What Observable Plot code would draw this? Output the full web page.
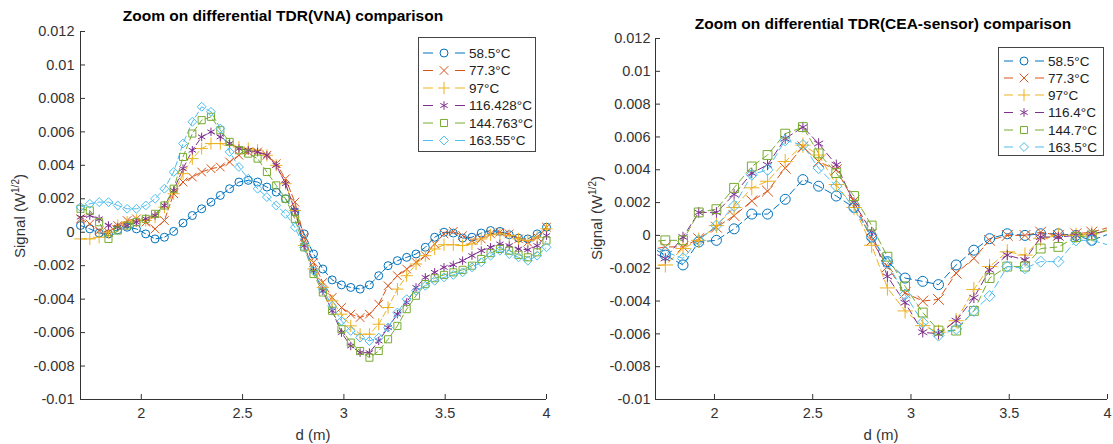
<!DOCTYPE html>
<html><head><meta charset="utf-8">
<script src="https://cdn.jsdelivr.net/npm/d3@7"></script>
<script src="https://cdn.jsdelivr.net/npm/@observablehq/plot@0.6"></script>
<style>
body{margin:0;background:#fff;}
#root{position:relative;width:1113px;height:444px;overflow:hidden;background:#fff;font-family:"Liberation Sans",Arial,sans-serif;}
</style></head><body><div id="root"></div>
<script>
// ---------- shared ----------
const seriesColors = ["#0072BD","#D95319","#EDB120","#7E2F8E","#77AC30","#4DBEEE"];
const seriesSymbols = ["circle","times","plus","asterisk","square","diamond2"];
const xDomain = [1.7, 4];
const yDomain = [-0.01, 0.012];
const xTicks = [2, 2.5, 3, 3.5, 4];
const xTickLabels = ["2","2.5","3","3.5","4"];
const yTicks = [0.012, 0.01, 0.008, 0.006, 0.004, 0.002, 0, -0.002, -0.004, -0.006, -0.008, -0.01];
const yTickLabels = ["0.012","0.01","0.008","0.006","0.004","0.002","0","-0.002","-0.004","-0.006","-0.008","-0.01"];
const yLabelMain = "Signal (W", yLabelSup = "1/2", yLabelEnd = ")";
const xLabel = "d (m)";

// ---------- left panel: VNA ----------
const vnaTitle = "Zoom on differential TDR(VNA) comparison";
const vnaNames = ["58.5°C","77.3°C","97°C","116.428°C","144.763°C","163.55°C"];
const vnaD = [1.700,1.746,1.792,1.838,1.884,1.930,1.976,2.022,2.068,2.114,2.160,2.206,2.252,2.298,2.344,2.390,2.436,2.482,2.528,2.574,2.620,2.666,2.712,2.758,2.804,2.850,2.896,2.942,2.988,3.034,3.080,3.126,3.172,3.218,3.264,3.310,3.356,3.402,3.448,3.494,3.540,3.586,3.632,3.678,3.724,3.770,3.816,3.862,3.908,3.954,4.000];
const vna585 = [0.0004,0.0002,-0.00005,-0.0001,0.00015,0.0003,0.0002,-0.0001,-0.0004,-0.0003,0.00005,0.00055,0.001,0.0014,0.0018,0.0022,0.0026,0.003,0.0031,0.003,0.0027,0.0024,0.002,0.0012,-0.0001,-0.0013,-0.0022,-0.00285,-0.00315,-0.0033,-0.0034,-0.00315,-0.0026,-0.002,-0.0017,-0.0015,-0.0013,-0.0009,-0.0003,0.0,-0.00005,-0.00035,-0.0003,-0.00005,0.0001,0.00005,-0.00015,-0.00035,-0.0004,-0.0001,0.0003];
const vna773 = [0.0008,0.0005,0.0001,0.0,0.0004,0.0007,0.0008,0.0006,0.0002,0.0007,0.0023,0.003,0.0033,0.0036,0.0038,0.0039,0.0042,0.0046,0.0048,0.0048,0.0046,0.0041,0.0032,0.0018,-0.0003,-0.0018,-0.003,-0.0039,-0.0045,-0.0049,-0.0051,-0.0049,-0.0043,-0.0032,-0.0026,-0.0022,-0.0018,-0.0014,-0.0007,-0.0001,0.00005,-0.0002,-0.0005,-0.0004,-0.0001,0.0,-0.0001,-0.0004,-0.0006,-0.0003,0.0003];
const vna97 = [-0.0004,-0.0004,-0.0003,0.0,0.0004,0.0006,0.0007,0.0007,0.0009,0.0015,0.0023,0.0035,0.0044,0.005,0.0053,0.0053,0.0052,0.0051,0.005,0.0049,0.0046,0.004,0.0029,0.0013,-0.0008,-0.0022,-0.0033,-0.0041,-0.0049,-0.0056,-0.0061,-0.0061,-0.0055,-0.0045,-0.0034,-0.0026,-0.0019,-0.0014,-0.001,-0.00075,-0.00075,-0.0008,-0.0007,-0.0004,-0.00015,-0.0001,-0.0002,-0.0004,-0.0005,-0.0003,0.0002];
const vna116 = [0.0009,0.001,0.0008,0.0004,0.0003,0.0004,0.0006,0.0008,0.001,0.0016,0.0025,0.0038,0.0049,0.0057,0.006,0.0057,0.0053,0.005,0.0049,0.0048,0.0046,0.004,0.0029,0.0013,-0.0008,-0.0023,-0.0035,-0.0047,-0.006,-0.0068,-0.0072,-0.0072,-0.0065,-0.0057,-0.0049,-0.0042,-0.0033,-0.0027,-0.0024,-0.0021,-0.00195,-0.0017,-0.0014,-0.0011,-0.0009,-0.0007,-0.0008,-0.001,-0.00105,-0.0008,-0.0002];
const vna144 = [0.0014,0.0013,0.0006,-0.0004,0.0001,0.0004,0.0006,0.0008,0.0011,0.0016,0.0026,0.0045,0.0059,0.0067,0.0069,0.0061,0.0054,0.0049,0.0047,0.0044,0.0036,0.0028,0.002,0.0008,-0.0009,-0.0025,-0.0036,-0.0047,-0.0058,-0.0066,-0.0071,-0.0075,-0.0071,-0.0064,-0.0056,-0.0046,-0.0038,-0.0031,-0.00275,-0.00255,-0.0024,-0.00225,-0.002,-0.0016,-0.00125,-0.001,-0.0011,-0.00135,-0.0015,-0.0012,-0.0005];
const vna163 = [0.0015,0.0017,0.0018,0.0018,0.0016,0.0014,0.0014,0.0016,0.002,0.0026,0.0036,0.0053,0.0066,0.0075,0.0072,0.0062,0.0048,0.0039,0.0032,0.0026,0.0021,0.0016,0.0011,0.0003,-0.0009,-0.0023,-0.0034,-0.0044,-0.0053,-0.0059,-0.0063,-0.0065,-0.0063,-0.0057,-0.0048,-0.004,-0.0035,-0.0032,-0.0029,-0.0027,-0.00255,-0.0024,-0.0021,-0.0018,-0.0014,-0.0011,-0.0013,-0.0015,-0.0017,-0.0014,-0.0009];

// ---------- right panel: CEA sensor ----------
const ceaTitle = "Zoom on differential TDR(CEA-sensor) comparison";
const ceaNames = ["58.5°C","77.3°C","97°C","116.4°C","144.7°C","163.5°C"];
const ceaD = [1.66,1.75,1.84,1.92,2.01,2.10,2.19,2.27,2.36,2.45,2.53,2.62,2.71,2.80,2.88,2.97,3.06,3.14,3.23,3.32,3.40,3.49,3.58,3.66,3.75,3.84,3.92,4.01];
const cea585 = [-0.0006,-0.0012,-0.0018,-0.0004,-0.0003,0.0004,0.0013,0.0013,0.0022,0.0034,0.003,0.0024,0.0017,-0.0001,-0.0016,-0.0026,-0.0028,-0.003,-0.0018,-0.0009,-0.0002,0.0001,0.0,0.0001,0.0001,0.0,-0.0003,0.0001];
const cea773 = [-0.0009,-0.0007,-0.0007,-0.0002,0.0005,0.0012,0.0021,0.0027,0.0041,0.0054,0.0045,0.004,0.0021,-0.0003,-0.0019,-0.0035,-0.004,-0.0039,-0.0023,-0.0014,-0.0003,0.0,0.0,0.0002,0.0,0.0001,0.0002,0.0005];
const cea97 = [-0.0019,-0.0018,-0.0008,-0.0003,0.0006,0.0017,0.0029,0.0033,0.0045,0.0055,0.0049,0.0031,0.0017,-0.0006,-0.0032,-0.0046,-0.0055,-0.0059,-0.0052,-0.0033,-0.0019,-0.001,-0.0012,-0.0002,0.0,0.0,0.0001,0.0003];
const cea116 = [-0.0009,-0.0014,-0.0001,0.0014,0.0014,0.0025,0.0038,0.0043,0.0059,0.0066,0.0056,0.0043,0.002,0.0002,-0.0025,-0.0041,-0.0059,-0.006,-0.0052,-0.0038,-0.0021,-0.0012,-0.0015,-0.0001,-0.0001,0.0,0.0001,0.0003];
const cea144 = [-0.0004,-0.0003,-0.0003,0.0014,0.0016,0.0029,0.0042,0.0049,0.0062,0.0066,0.005,0.0038,0.0024,0.0006,-0.0013,-0.0031,-0.0047,-0.0058,-0.0058,-0.0046,-0.0026,-0.0019,-0.0019,-0.0008,-0.0007,-0.0001,0.0,0.0004];
const cea163 = [-0.0005,-0.001,-0.0014,-0.0003,0.0006,0.0018,0.0037,0.004,0.0058,0.0055,0.0041,0.003,0.0017,-0.0001,-0.0017,-0.0036,-0.0053,-0.0061,-0.0057,-0.0046,-0.0037,-0.0019,-0.002,-0.0016,-0.0016,-0.0003,-0.0003,-0.0006];

const root = document.getElementById("root");
const FONT = "Liberation Sans, Arial, Helvetica, sans-serif";
const AXC = "#333333";

function drawPanel(cfg) {
  const rows = [];
  cfg.series.forEach((vals, i) => vals.forEach((v, j) => rows.push({d: cfg.d[j], v, s: cfg.names[i]})));
  const plotW = cfg.width - cfg.ml - cfg.mr;
  const plotH = 444 - cfg.mt - cfg.mb;
  const inside = r => r.d >= xDomain[0] && r.d <= xDomain[1];
  const chart = Plot.plot({
    width: cfg.width, height: 444,
    marginLeft: cfg.ml, marginRight: cfg.mr, marginTop: cfg.mt, marginBottom: cfg.mb,
    style: {fontFamily: FONT, fontSize: "14.5px", color: AXC, background: "transparent", overflow: "visible"},
    x: {domain: xDomain},
    y: {domain: yDomain},
    color: {domain: cfg.names, range: seriesColors},
    symbol: {domain: cfg.names, range: seriesSymbols},
    marks: [
      Plot.line(rows, {x: "d", y: "v", z: "s", stroke: "s", strokeWidth: 1, strokeDasharray: cfg.dash, clip: true}),
      Plot.dot(rows, {x: "d", y: "v", stroke: "s", symbol: "s", r: cfg.r, strokeWidth: 1, filter: inside}),
      Plot.ruleX([xDomain[0]], {stroke: AXC, strokeWidth: 1}),
      Plot.ruleY([yDomain[0]], {stroke: AXC, strokeWidth: 1}),
      Plot.tickX(xTicks, {x: t => t, insetTop: plotH - 5, stroke: AXC}),
      Plot.tickY(yTicks, {y: t => t, insetRight: plotW - 5, stroke: AXC}),
      Plot.axisX(xTicks, {tickSize: 0, tickPadding: 8, tickFormat: t => xTickLabels[xTicks.indexOf(t)], label: null, fill: AXC}),
      Plot.axisY(yTicks, {tickSize: 0, tickPadding: cfg.ypad, tickFormat: t => yTickLabels[yTicks.indexOf(t)], label: null, fill: AXC})
    ]
  });
  chart.style.position = "absolute";
  chart.style.left = cfg.left + "px";
  chart.style.top = "0px";
  root.appendChild(chart);
}

drawPanel({left: 0, width: 560, ml: 80, mr: 14, mt: 31, mb: 45, d: vnaD,
  series: [vna585, vna773, vna97, vna116, vna144, vna163], names: vnaNames, r: 4, dash: "6,3", ypad: 6});
drawPanel({left: 560, width: 553, ml: 95, mr: 6, mt: 38, mb: 45, d: ceaD,
  series: [cea585, cea773, cea97, cea116, cea144, cea163], names: ceaNames, r: 5, dash: "7,4", ypad: 5});

// ---------- overlay: titles, axis labels, legends ----------
const ov = d3.select(root).append("svg")
  .attr("width", 1113).attr("height", 444)
  .style("position", "absolute").style("left", "0px").style("top", "0px")
  .style("font-family", FONT);

function title(text, x, y) {
  ov.append("text").attr("x", x).attr("y", y).attr("text-anchor", "middle")
    .attr("font-size", 15.5).attr("font-weight", "bold").attr("fill", "#000").text(text);
}
title(vnaTitle, 283, 21);
title(ceaTitle, 883, 29);

function ylab(x, y) {
  const t = ov.append("text").attr("transform", `translate(${x},${y}) rotate(-90)`)
    .attr("text-anchor", "middle").attr("font-size", 15).attr("fill", AXC);
  t.append("tspan").text(yLabelMain);
  t.append("tspan").attr("dy", -6).attr("font-size", 10).text(yLabelSup);
  t.append("tspan").attr("dy", 6).text(yLabelEnd);
}
ylab(25, 216);
ylab(602, 218);

function xlab(x, y) {
  ov.append("text").attr("x", x).attr("y", y).attr("text-anchor", "middle")
    .attr("font-size", 15).attr("fill", AXC).text(xLabel);
}
xlab(313, 440);
xlab(881, 440);

const d3Sym = {circle: d3.symbolCircle, times: d3.symbolTimes || d3.symbolX, plus: d3.symbolPlus,
  asterisk: d3.symbolAsterisk, square: d3.symbolSquare, diamond2: d3.symbolDiamond2};

function legend(names, box, rows, d1, mk, d2, tx, r) {
  ov.append("rect").attr("x", box[0] + 0.5).attr("y", box[1] + 0.5)
    .attr("width", box[2] - box[0]).attr("height", box[3] - box[1])
    .attr("fill", "#fff").attr("stroke", "#444").attr("stroke-width", 1);
  names.forEach((n, i) => {
    const y = rows[i];
    const c = seriesColors[i];
    ov.append("line").attr("x1", d1[0]).attr("x2", d1[1]).attr("y1", y).attr("y2", y).attr("stroke", c).attr("stroke-width", 1);
    ov.append("line").attr("x1", d2[0]).attr("x2", d2[1]).attr("y1", y).attr("y2", y).attr("stroke", c).attr("stroke-width", 1);
    ov.append("path").attr("transform", `translate(${mk},${y})`)
      .attr("d", d3.symbol(d3Sym[seriesSymbols[i]], Math.PI * r * r)())
      .attr("fill", "none").attr("stroke", c).attr("stroke-width", 1);
    ov.append("text").attr("x", tx).attr("y", y).attr("dy", "0.35em")
      .attr("font-size", 13.5).attr("fill", "#222").text(n);
  });
}
legend(vnaNames, [418, 37, 535, 151], [53, 70.5, 88, 105.5, 123, 140.5], [423, 433], 444, [455, 465], 469, 4);
legend(ceaNames, [998, 47, 1103, 155], [61, 78, 95, 112.5, 130, 147], [1004, 1013], 1024, [1035, 1044], 1048, 4);
</script></body></html>
